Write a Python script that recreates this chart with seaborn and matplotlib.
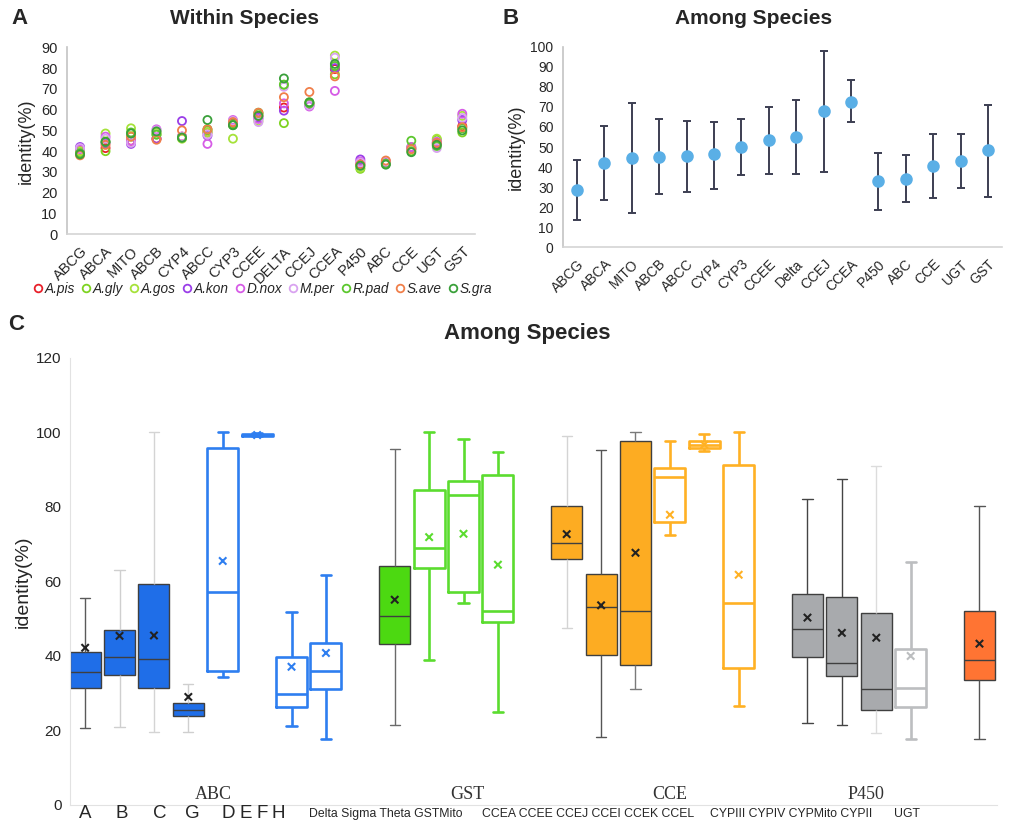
import numpy as np
import pandas as pd
import seaborn as sns
import matplotlib
matplotlib.use("Agg")
from matplotlib import pyplot as plt
from matplotlib.lines import Line2D

# ---------------- panel A : within species ----------------
genes_a = ["ABCG", "ABCA", "MITO", "ABCB", "CYP4", "ABCC", "CYP3", "CCEE",
           "DELTA", "CCEJ", "CCEA", "P450", "ABC", "CCE", "UGT", "GST"]
species = ["A.pis", "A.gly", "A.gos", "A.kon", "D.nox", "M.per", "R.pad", "S.ave", "S.gra"]
species_colors = ["#e8202a", "#7ed321", "#a6e23a", "#9a3ee8", "#d65ce6",
                  "#d9a3f0", "#5cc72e", "#f07f4a", "#3aa03a"]

a_pis = [40, 41.5, 45, 46, 47, 49, 53.5, 57, 61, 62.5, 79.5, 34, 35, 41, 43.5, 52]
a_gly = [39, 40, 47, 48, 46.5, 50, 53, 58, 53.5, 63, 77, 31.5, 34, 40, 45.5, 49]
a_gos = [40, 48.5, 51, 49, 46, 49, 46, 54.5, 72, 63.5, 86, 32, 34.5, 42, 46, 57]
a_kon = [42, 44, 43.5, 46, 54.5, 47.5, 54, 56, 59.5, 62, 80, 36, 34.5, 41.5, 44, 55]
d_nox = [41, 47, 45, 50.5, 47, 43.5, 55, 55.5, 63, 61.5, 69, 35, 34, 42, 44.5, 58]
m_per = [41.5, 46, 44, 50, 47, 48, 54.5, 54, 71, 62, 85, 34.5, 35, 41, 41.5, 56]
r_pad = [39, 44.5, 49, 48, 46.5, 50.5, 52.5, 58.5, 72, 63, 81, 33, 34, 45, 42.5, 51]
s_ave = [38, 43, 47, 45.5, 50, 50.5, 54, 58.5, 66, 68.5, 76, 33.5, 35.5, 41, 44, 51.5]
s_gra = [38.5, 44.5, 48.5, 49.5, 46.5, 55, 52.5, 57, 75, 63.5, 82, 33, 33.5, 39.5, 43, 50]
within_vals = [a_pis, a_gly, a_gos, a_kon, d_nox, m_per, r_pad, s_ave, s_gra]

# ---------------- panel B : among species ----------------
genes_b = ["ABCG", "ABCA", "MITO", "ABCB", "ABCC", "CYP4", "CYP3", "CCEE",
           "Delta", "CCEJ", "CCEA", "P450", "ABC", "CCE", "UGT", "GST"]
mean_b = [28.6, 42.2, 44.5, 45.2, 45.5, 46.3, 50.2, 53.7, 55.0, 67.8, 72.6, 33.1, 34.2, 40.7, 43.2, 48.3]
low_b = [13.6, 23.4, 17.3, 26.7, 27.6, 29.2, 35.9, 36.7, 36.7, 37.4, 62.3, 18.8, 22.8, 24.8, 29.7, 25.2]
high_b = [43.5, 60.6, 72.1, 64.0, 63.1, 62.6, 64.1, 70.1, 73.4, 97.8, 83.2, 47.2, 46.0, 56.3, 56.6, 71.1]

# ---------------- panel C : boxes among species ----------------
box_names = ["A", "B", "C", "G", "D", "E", "F", "H",
             "Delta", "Sigma", "Theta", "GSTMito",
             "CCEA", "CCEE", "CCEJ", "CCEI", "CCEK", "CCEL",
             "CYPIII", "CYPIV", "CYPMito", "CYPII", "UGT"]
box_family = ["ABC"] * 8 + ["GST"] * 4 + ["CCE"] * 6 + ["P450"] * 4 + ["UGT"]
whis_lo = [20.6, 20.8, 19.7, 19.7, 34.4, 99.0, 21.2, 17.7, 21.6, 38.9, 54.1, 25.0,
           47.5, 18.3, 31.1, 72.5, 95.0, 26.6, 22.1, 21.6, 19.4, 17.6, 17.7]
q1 = [31.3, 34.9, 31.3, 23.9, 35.9, 99.1, 26.2, 31.2, 43.2, 63.6, 57.2, 49.2,
      66.1, 40.2, 37.7, 76.0, 95.8, 36.9, 39.8, 34.7, 25.5, 26.2, 33.5]
med = [35.6, 39.6, 39.1, 25.5, 57.2, 99.3, 29.8, 36.0, 50.7, 69.1, 83.3, 52.0,
       70.4, 53.2, 52.1, 88.0, 96.7, 54.1, 47.2, 38.0, 31.0, 31.5, 39.0]
q3 = [41.1, 46.9, 59.4, 27.4, 95.8, 99.6, 39.8, 43.5, 64.1, 84.6, 87.1, 88.5,
      80.3, 62.1, 97.6, 90.5, 97.7, 91.3, 56.7, 55.9, 51.6, 41.8, 52.0]
whis_hi = [55.6, 63.2, 100, 32.6, 100, 99.8, 51.8, 61.8, 95.6, 100, 98.2, 94.8,
           99.1, 95.2, 100, 97.6, 99.5, 100, 82.2, 87.6, 90.9, 65.2, 80.3]
mean_c = [42.2, 45.4, 45.5, 29.0, 65.5, 99.3, 37.1, 40.8, 55.1, 71.9, 72.8, 64.5,
          72.7, 53.6, 67.7, 77.9, 96.7, 61.8, 50.3, 46.2, 44.9, 40.0, 43.3]

# style of each box (filled or outline, whisker colour of filled ones)
filled = [1, 1, 1, 1, 0, 0, 0, 0, 1, 0, 0, 0, 1, 1, 1, 0, 0, 0, 1, 1, 1, 0, 1]
whisk_col = ["#5a5a5a", "#cfcfcf", "#d4d4d4", "#cfcfcf", None, None, None, None,
             "#6a6a6a", None, None, None, "#d4d4d4", "#555555", "#7a7a7a", None, None, None,
             "#444444", "#444444", "#dcdcdc", None, "#555555"]
fam_fill = {"ABC": "#1f6ee8", "GST": "#4cd911", "CCE": "#fdac22", "P450": "#a8aaad", "UGT": "#ff7433"}
fam_line = {"ABC": "#2e7ef0", "GST": "#5bdc2f", "CCE": "#ffb124", "P450": "#bcbec0", "UGT": "#ff7433"}

sns.set_style("white")
plt.rcParams["font.family"] = ["Liberation Sans", "DejaVu Sans"]

fig = plt.figure(figsize=(10.34, 8.24), dpi=100)
axA = fig.add_axes([0.0651, 0.7157, 0.3943, 0.2269])
axB = fig.add_axes([0.5448, 0.6999, 0.4240, 0.2434])
axC = fig.add_axes([0.0677, 0.0231, 0.8962, 0.5425])

# ---- A ----
rows = []
for sp, vals in zip(species, within_vals):
    for g, v in zip(genes_a, vals):
        rows.append((g, sp, v))
dfa = pd.DataFrame(rows, columns=["gene", "species", "identity"])
sns.stripplot(data=dfa, x="gene", y="identity", hue="species", order=genes_a,
              hue_order=species, palette=species_colors, jitter=False, dodge=False,
              size=5.8, linewidth=0, legend=False, ax=axA)
for pc in axA.collections:
    fc = pc.get_facecolors()
    pc.set_edgecolors(fc)
    pc.set_facecolors("none")
    pc.set_linewidths(1.3)

axA.set_xlim(-0.5, 15.5)
axA.set_ylim(0, 90)
axA.set_yticks(range(0, 91, 10))
axA.set_xlabel("")
axA.set_ylabel("identity(%)", fontsize=13)
axA.yaxis.set_label_coords(-0.079, 0.5)
axA.tick_params(length=0, labelsize=10.5, pad=7)
plt.setp(axA.get_xticklabels(), rotation=45, ha="right", rotation_mode="anchor")
for s in ["top", "right"]:
    axA.spines[s].set_visible(False)
axA.spines["left"].set_color("#c4c4c4")
axA.spines["bottom"].set_color("#d4d4d4")
axA.spines["left"].set_linewidth(1.2)
axA.spines["bottom"].set_linewidth(1.2)

handles = [Line2D([], [], marker="o", linestyle="none", markerfacecolor="none",
                  markeredgecolor=c, markeredgewidth=1.3, markersize=5.5) for c in species_colors]
fig.legend(handles, species, loc="center", bbox_to_anchor=(0.253, 0.649), ncol=9,
           frameon=False, handletextpad=0.0, columnspacing=0.3, handlelength=1.0,
           borderpad=0.1, prop={"style": "italic", "size": 9.8})

# ---- B ----
sns.pointplot(x=genes_b, y=mean_b, color="#5aafe6", markers="o", linestyles="none",
              markersize=7, errorbar=None, ax=axB, zorder=3)
xb = np.arange(len(genes_b))
yerr = [np.array(mean_b) - np.array(low_b), np.array(high_b) - np.array(mean_b)]
axB.errorbar(xb, mean_b, yerr=yerr, fmt="none", ecolor="#3c3e52", elinewidth=1.4,
             capsize=3, capthick=1.4, zorder=1)
axB.set_xlim(-0.5, 15.5)
axB.set_ylim(0, 100)
axB.set_yticks(range(0, 101, 10))
axB.set_xlabel("")
axB.set_ylabel("identity(%)", fontsize=13)
axB.yaxis.set_label_coords(-0.087, 0.5)
axB.tick_params(length=0, labelsize=10, pad=7)
plt.setp(axB.get_xticklabels(), rotation=45, ha="right", rotation_mode="anchor")
for s in ["top", "right"]:
    axB.spines[s].set_visible(False)
axB.spines["left"].set_color("#c4c4c4")
axB.spines["bottom"].set_color("#d4d4d4")
axB.spines["left"].set_linewidth(1.2)
axB.spines["bottom"].set_linewidth(1.2)

# ---- C ----
slots = []
pos = 0
for i, fam in enumerate(box_family):
    if i > 0 and fam != box_family[i - 1]:
        pos += 1
    slots.append(pos)
    pos += 1

mean_cols = []
for i, name in enumerate(box_names):
    fam = box_family[i]
    d = pd.DataFrame({"pos": slots[i],
                      "identity": [whis_lo[i], q1[i], med[i], q3[i], whis_hi[i]]})
    if filled[i]:
        wc = whisk_col[i]
        sns.boxplot(data=d, x="pos", y="identity", native_scale=True, whis=(0, 100),
                    width=0.9, color=fam_fill[fam], saturation=1, fill=True,
                    linecolor="#3f3f3f", linewidth=1.0, capwidths=0.3,
                    whiskerprops={"color": wc}, capprops={"color": wc},
                    ax=axC)
        mean_cols.append("#222222")
    else:
        sns.boxplot(data=d, x="pos", y="identity", native_scale=True, whis=(0, 100),
                    width=0.9, color=fam_line[fam], saturation=1, fill=False,
                    linewidth=1.9, capwidths=0.3, ax=axC)
        mean_cols.append(fam_line[fam])

axC.scatter(slots, mean_c, marker="x", c=mean_cols, s=28, linewidths=1.5, zorder=5)

axC.set_xlim(-0.44, 26.5)
axC.set_ylim(0, 120)
axC.set_yticks(range(0, 121, 20))
axC.set_xticks([])
axC.set_xlabel("")
axC.set_ylabel("identity(%)", fontsize=14)
axC.yaxis.set_label_coords(-0.041, 0.5)
axC.tick_params(length=0, labelsize=11, pad=6)
for s in ["top", "right"]:
    axC.spines[s].set_visible(False)
axC.spines["left"].set_color("#e2e2e2")
axC.spines["bottom"].set_color("#e2e2e2")

# family names just above the axis line
fam_text = ["ABC", "GST", "CCE", "P450"]
fam_text_x = [3.72, 11.1, 17.0, 22.7]
for t, x in zip(fam_text, fam_text_x):
    axC.text(x, 0.004, t, transform=axC.get_xaxis_transform(), ha="center", va="bottom",
             family="Liberation Serif", fontsize=13, color="#333333")

# labels under the axis (figure pixel positions)
letters = ["A", "B", "C", "G", "D", "E", "F", "H"]
letters_px = [85, 122, 160, 192, 228, 246, 262, 278]
for t, px in zip(letters, letters_px):
    fig.text(px / 1034, 1 - 814 / 824, t, ha="center", va="center", fontsize=13.5)
sub_text = ["Delta Sigma Theta GSTMito", "CCEA CCEE CCEJ CCEI CCEK CCEL",
            "CYPIII CYPIV CYPMito CYPII", "UGT"]
sub_px = [386, 588, 791, 907]
for t, px in zip(sub_text, sub_px):
    fig.text(px / 1034, 1 - 814 / 824, t, ha="center", va="center", fontsize=8.8)

# titles and panel letters
fig.text(245 / 1034, 1 - 19 / 824, "Within Species", ha="center", va="center",
         fontsize=15, fontweight="bold")
fig.text(754 / 1034, 1 - 18 / 824, "Among Species", ha="center", va="center",
         fontsize=15, fontweight="bold")
fig.text(527 / 1034, 1 - 333 / 824, "Among Species", ha="center", va="center",
         fontsize=16, fontweight="bold")
fig.text(20 / 1034, 1 - 18 / 824, "A", ha="center", va="center", fontsize=16, fontweight="bold")
fig.text(511 / 1034, 1 - 18 / 824, "B", ha="center", va="center", fontsize=16, fontweight="bold")
fig.text(16 / 1034, 1 - 325 / 824, "C", ha="center", va="center", fontsize=16, fontweight="bold")

fig.savefig("out.png", dpi=100)
